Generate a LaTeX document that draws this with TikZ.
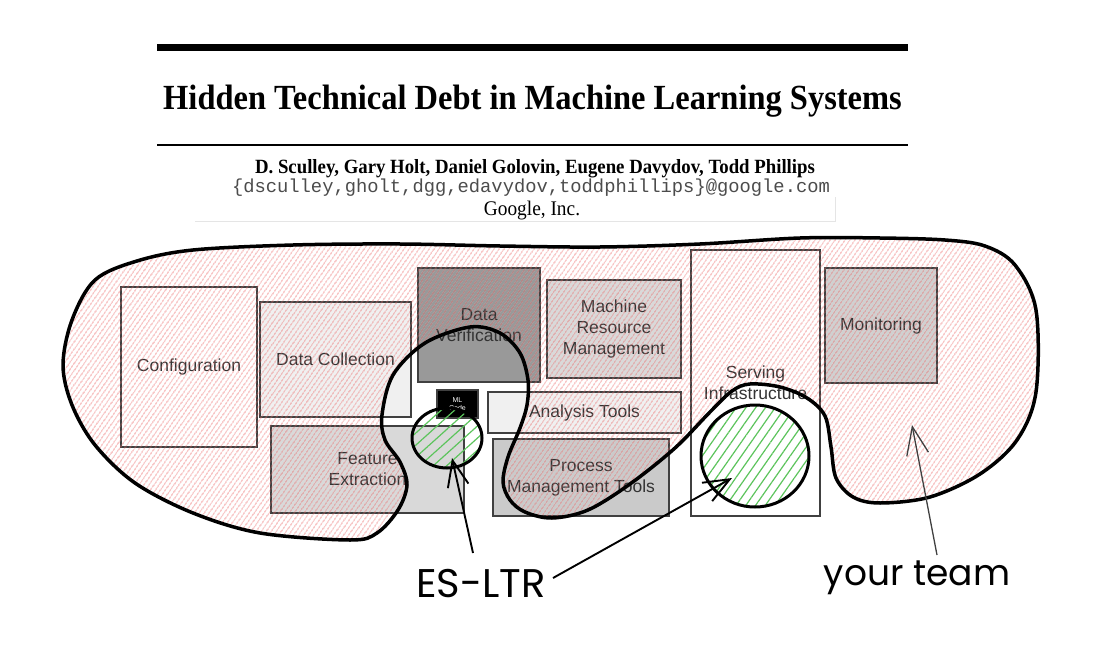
\documentclass[tikz,border=0pt]{standalone}
\usepackage{fontspec}
\setmainfont{Liberation Serif}
\newfontfamily\arialf{Liberation Sans}
\newfontfamily\monof{Liberation Mono}
\newfontfamily\handf{Poppins}
\usetikzlibrary{patterns.meta,arrows.meta,shapes.geometric}
\definecolor{boxline}{HTML}{404040}
\definecolor{textgray}{HTML}{333333}
\definecolor{hatchred}{HTML}{EC6464}
\definecolor{hatchgreen}{HTML}{5CC45C}
\definecolor{lightfill}{HTML}{F0F0F0}
\definecolor{midfill}{HTML}{D9D9D9}
\definecolor{procfill}{HTML}{CACACA}
\definecolor{darkfill}{HTML}{999999}
\definecolor{monfill}{HTML}{D0D0D0}
\begin{document}
\begin{tikzpicture}[x=1pt,y=-1pt,
  box/.style={draw=boxline, line width=1.5pt, inner sep=0pt, align=center,
    font=\arialf\fontsize{17.5}{21}\selectfont, text=textgray},
  greenc/.style={ellipse, draw=black, line width=3pt, inner sep=0pt},
  sketcharrow/.style={line width=1.9pt, -{Straight Barb[length=26pt,width=21pt,line width=1.9pt]}},
  hand/.style={font=\handf\fontsize{40}{44}\selectfont, inner sep=0pt, anchor=base}
]
\useasboundingbox (0,0) rectangle (1095,650);
\fill[white] (0,0) rectangle (1095,650);

% paper header
\fill[black] (157,44) rectangle (908,51);
\fill[black] (157,144) rectangle (908,146);
\node[anchor=base, inner sep=0pt, xscale=0.92, font=\bfseries\fontsize{35.3}{40}\selectfont] (title) at (532.5,110) {Hidden Technical Debt in Machine Learning Systems};
\node[anchor=base, inner sep=0pt, xscale=0.93, font=\bfseries\fontsize{20.2}{24}\selectfont] (authors) at (535,173) {D. Sculley, Gary Holt, Daniel Golovin, Eugene Davydov, Todd Phillips};
\node[anchor=base, inner sep=0pt, text=black!70, font=\monof\fontsize{18.8}{21}\selectfont] (emails) at (531,193) {\{dsculley,gholt,dgg,edavydov,toddphillips\}@google.com};
\node[anchor=base, inner sep=0pt, xscale=0.93, font=\fontsize{20.8}{24}\selectfont] (affil) at (532,215) {Google, Inc.};
\draw[black!10, line width=1pt] (195,221) -- (835,221) -- (835,197);

% component boxes
\node[box, fill=white, minimum width=136pt, minimum height=160pt] (config) at (189,367) {Configuration};
\node[box, fill=lightfill, minimum width=151pt, minimum height=115pt] (datacoll) at (335.5,359.5) {Data Collection};
\node[box, fill=darkfill, minimum width=122pt, minimum height=114pt] (dataver) at (479,325) {Data\\Verification};
\node[box, fill=midfill, minimum width=134pt, minimum height=98pt] (mrm) at (614,329) {Machine\\Resource\\Management};
\node[box, fill=lightfill, minimum width=193pt, minimum height=41pt] (analysis) at (584.5,412.5) {Analysis Tools};
\node[box, fill=midfill, minimum width=193pt, minimum height=87pt] (feature) at (367.5,469.5) {Feature\\Extraction};
\node[box, fill=procfill, minimum width=176pt, minimum height=77pt] (process) at (581,477.5) {Process\\Management Tools};
\node[box, fill=white, minimum width=129pt, minimum height=266pt] (serving) at (755.5,383) {Serving\\Infrastructure};
\node[box, fill=monfill, minimum width=112pt, minimum height=115pt] (monitor) at (881,325.5) {Monitoring};
\node[box, fill=black, text=white, minimum width=41pt, minimum height=28pt,
  font=\arialf\fontsize{7}{8}\selectfont] (mlcode) at (457.5,404) {ML\\Code};

% team blob
\draw[line width=3.5pt, line join=round,
  pattern={Lines[angle=55,distance=4pt,line width=0.9pt]}, pattern color=hatchred]
  plot[smooth cycle, tension=0.55] coordinates {
  (350,540) (377,533) (398,510) (407,485) (400,462) (385,440) (382,415) (393,375)
  (425,343) (470,327) (500,333) (520,353) (528,380) (527,405) (520,428) (508,457)
  (503,482) (510,500) (525,512) (552,518) (588,510) (630,484) (675,448) (710,412)
  (732,391) (750,384) (780,387) (807,398) (825,416) (831,447) (836,478) (853,497)
  (880,503) (930,497) (980,474) (1017,440) (1036,392) (1036,310) (1015,265) (985,246)
  (945,240) (880,238) (800,238) (700,244) (600,247) (500,246) (400,244) (293,245)
  (193,250) (137,261) (95,280) (72,320) (63,365) (72,405) (95,445) (135,483)
  (193,513) (260,533)};

% ES-LTR circles
\node[greenc, minimum width=70pt, minimum height=60pt,
  pattern={Lines[angle=42,distance=9pt,line width=1.2pt]}, pattern color=hatchgreen] (small) at (447,438) {};
\node[greenc, minimum width=108pt, minimum height=102pt,
  pattern={Lines[angle=55,distance=8pt,line width=1.2pt]}, pattern color=hatchgreen] (big) at (755,456) {};

% labels and arrows
\node[hand] (esltr) at (481,597) {ES-LTR};
\node[hand, font=\handf\fontsize{36}{40}\selectfont] (team) at (917,585) {your team};
\coordinate (s1) at (473,553);
\coordinate (t1) at (452,458);
\coordinate (s2) at (553,578);
\coordinate (t2) at (732,478);
\coordinate (s3) at (937,555);
\coordinate (t3) at (912,425);
\draw[sketcharrow] (s1) -- (t1);
\draw[sketcharrow] (s2) -- (t2);
\draw[line width=1.3pt, draw=black!75, -{Straight Barb[length=28pt,width=22pt,line width=1.3pt]}] (s3) -- (t3);
\end{tikzpicture}
\end{document}
